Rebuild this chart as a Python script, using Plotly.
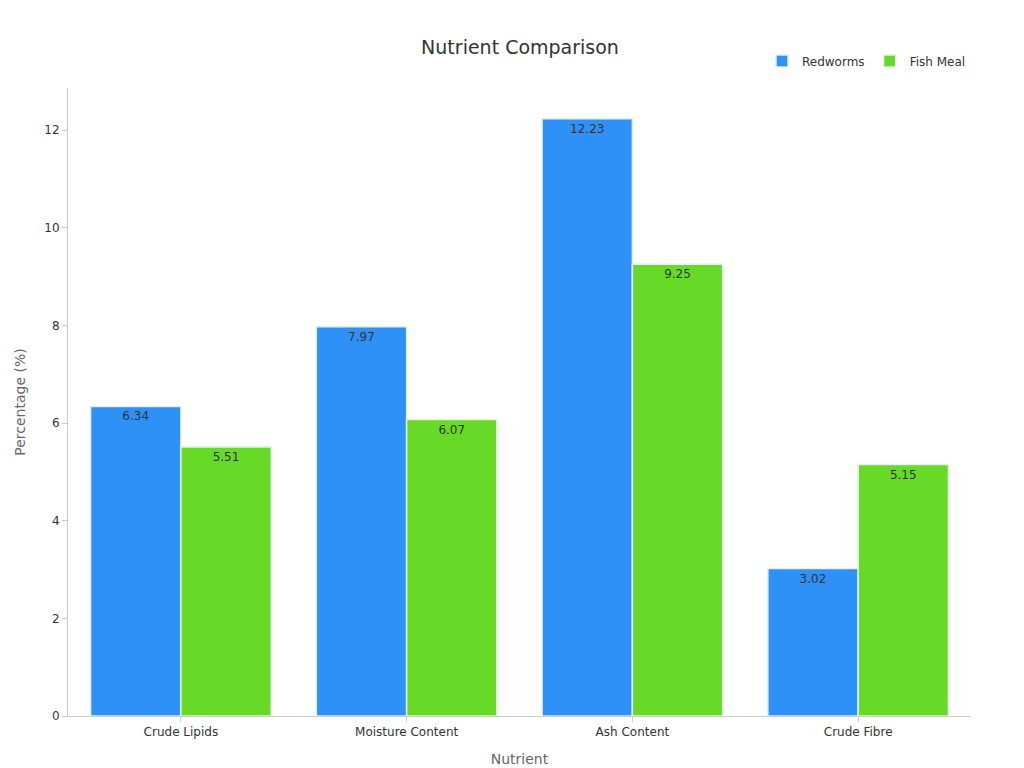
import plotly.graph_objects as go

categories = ["Crude Lipids", "Moisture Content", "Ash Content", "Crude Fibre"]
redworms = [6.34, 7.97, 12.23, 3.02]
fish_meal = [5.51, 6.07, 9.25, 5.15]

fig = go.Figure()
for name, vals, col in [("Redworms", redworms, "#2E91F8"), ("Fish Meal", fish_meal, "#66DA26")]:
    fig.add_trace(go.Bar(x=categories, y=vals, name=name, marker_color=col,
                         marker_line=dict(color="#E6F0E6", width=1.5),
                         text=[f"{v:.2f}" for v in vals], textposition="inside",
                         insidetextanchor="end", textfont=dict(color="#333", size=12)))
fig.update_layout(
    width=1024, height=768, plot_bgcolor="white", paper_bgcolor="white",
    font=dict(family="DejaVu Sans", color="#333"),
    title=dict(text="Nutrient Comparison", x=0.5, y=0.957, xanchor="center", font=dict(size=19)),
    margin=dict(l=60, r=61, t=80, b=60),
    barmode="group", bargap=0.2, bargroupgap=0,
    legend=dict(orientation="h", x=1, xanchor="right", y=1.02, yanchor="bottom", font=dict(size=12)),
    xaxis=dict(title=dict(text="Nutrient", font=dict(size=14, color="#666")), showline=True, linecolor="#ccc",
               ticks="outside", tickcolor="#ccc", tickfont=dict(size=12)),
    yaxis=dict(title=dict(text="Percentage (%)", font=dict(size=14, color="#666")), range=[0, 12.86],
               showline=True, linecolor="#ccc", ticks="outside", tickcolor="#ccc",
               showgrid=False, zeroline=False, dtick=2, tickfont=dict(size=12)),
)
fig.write_html("out.html")
